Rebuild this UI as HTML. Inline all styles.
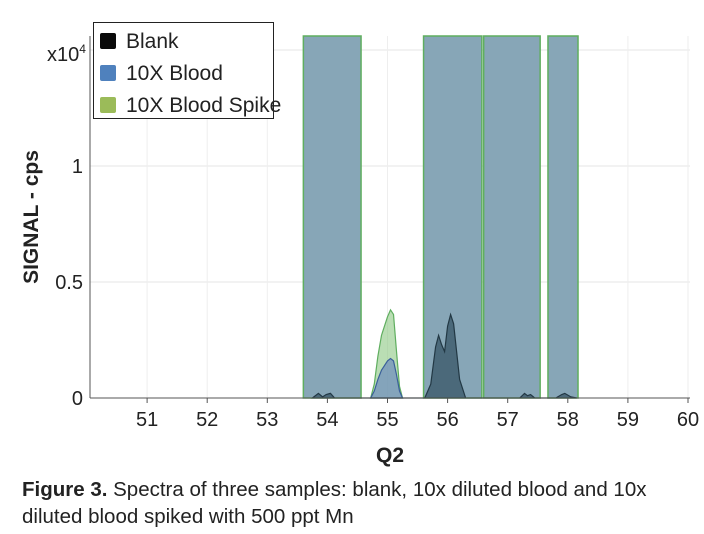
<!DOCTYPE html>
<html><head><meta charset="utf-8"><style>
body{margin:0;background:#fff;width:704px;height:534px;overflow:hidden;font-family:"Liberation Sans",sans-serif}
svg{position:absolute;left:0;top:0}
.cap{position:absolute;left:22px;top:476px;font-size:20.5px;line-height:27px;color:#222;width:680px}
</style></head><body>
<svg id="chart" width="704" height="534"></svg>
<div class="cap"><b>Figure 3.</b> Spectra of three samples: blank, 10x diluted blood and 10x diluted blood spiked with 500 ppt Mn</div>
<script>
const xTicks=[51,52,53,54,55,56,57,58,59,60];
const yTicks=[0,0.5,1];
const yTickLabels=["0","0.5","1"];
const bandX0=[53.6,55.6,56.6,57.67];
const bandX1=[54.56,56.57,57.54,58.17];
const bandY=[1.6,1.6,1.6,1.6];
const spikeX=[54.72,54.78,54.84,54.9,54.95,55.0,55.05,55.1,55.15,55.2,55.25];
const spikeY=[0,0.06,0.18,0.27,0.31,0.35,0.38,0.36,0.2,0.05,0];
const bloodX=[54.72,54.78,54.84,54.9,54.95,55.0,55.05,55.1,55.15,55.2,55.25];
const bloodY=[0,0.03,0.08,0.12,0.14,0.16,0.17,0.16,0.1,0.03,0];
const blankX=[53.75,53.85,53.92,53.98,54.05,54.12,55.62,55.72,55.8,55.85,55.9,55.95,56.0,56.05,56.1,56.2,56.3,57.2,57.28,57.33,57.38,57.45,57.8,57.9,57.95,58.05,58.15];
const blankY=[0,0.02,0.005,0.015,0.02,0,0,0.06,0.22,0.27,0.23,0.2,0.31,0.36,0.32,0.08,0,0,0.02,0.01,0.015,0,0,0.015,0.02,0.005,0];
const svg=document.getElementById('chart');const NS='http://www.w3.org/2000/svg';
const L=90,R=690,T=36,B=398;
const sx=v=>87+(v-50)*60.1, sy=v=>Math.max(T,398-v*232);
function mk(t,a,p){const e=document.createElementNS(NS,t);for(const k in a)e.setAttribute(k,a[k]);(p||svg).appendChild(e);return e;}
for(const v of [0.5,1,1.5]){const g=mk('line',{x1:L,x2:R,y1:398-v*232,y2:398-v*232,stroke:'#e6e6e6'});}
for(const v of xTicks){const g=mk('line',{x1:sx(v),x2:sx(v),y1:T,y2:B,stroke:'#eeeeee'});}
for(let i=0;i<bandX0.length;i++){const r=mk('rect',{x:sx(bandX0[i]),y:sy(bandY[i]),width:sx(bandX1[i])-sx(bandX0[i]),height:B-sy(bandY[i]),fill:'#87a6b7',stroke:'#5fae5f','stroke-width':1.5});}
function area(xs,ys,fill,stroke,name){let d='M'+sx(xs[0])+','+B;for(let i=0;i<xs.length;i++)d+='L'+sx(xs[i])+','+sy(ys[i]);d+='L'+sx(xs[xs.length-1])+','+B+'Z';const p=mk('path',{d:d,fill:fill,stroke:stroke,'stroke-width':1.2});}
area(spikeX,spikeY,'rgba(140,200,130,0.6)','#5fae5f','spike-series');
area(bloodX,bloodY,'rgba(110,140,190,0.7)','#3a5f9a','blood-series');
area(blankX,blankY,'rgba(50,80,95,0.7)','#223844','blank-series');
let a=mk('line',{x1:L,x2:R,y1:B,y2:B,stroke:'#555'});
a=mk('line',{x1:L,x2:L,y1:T,y2:B,stroke:'#555'});
for(const v of xTicks){const tk=mk('line',{x1:sx(v),x2:sx(v),y1:B,y2:B+5,stroke:'#555'});
const t=mk('text',{x:sx(v),y:426,'text-anchor':'middle','font-size':20,fill:'#222'});t.textContent=v;}
yTicks.forEach((v,i)=>{const t=mk('text',{x:83,y:398-v*232+7,'text-anchor':'end','font-size':20,fill:'#222'});t.textContent=yTickLabels[i];});
let t=mk('text',{x:47,y:61,'font-size':20,fill:'#222'});t.innerHTML='x10<tspan font-size="12" dy="-8">4</tspan>';
t=mk('text',{x:390,y:462,'text-anchor':'middle','font-size':21,'font-weight':'bold',fill:'#222'});t.textContent='Q2';
t=mk('text',{x:0,y:0,'text-anchor':'middle','font-size':21,'font-weight':'bold',fill:'#222',transform:'translate(38,217) rotate(-90)'});t.textContent='SIGNAL - cps';
const lg=mk('g',{});
mk('rect',{x:93.5,y:22.5,width:180,height:96,fill:'#fff',stroke:'#222'},lg);
const ln=['Blank','10X Blood','10X Blood Spike'],lc=['#0a0a0a','#4f81bd','#9bbb59'];
ln.forEach((n,i)=>{const r=mk('rect',{x:100,y:33+i*32,width:16,height:16,rx:2,fill:lc[i]},lg);
const tx=mk('text',{x:126,y:48+i*32,'font-size':21,fill:'#222'},lg);tx.textContent=n;});
</script>
</body></html>
